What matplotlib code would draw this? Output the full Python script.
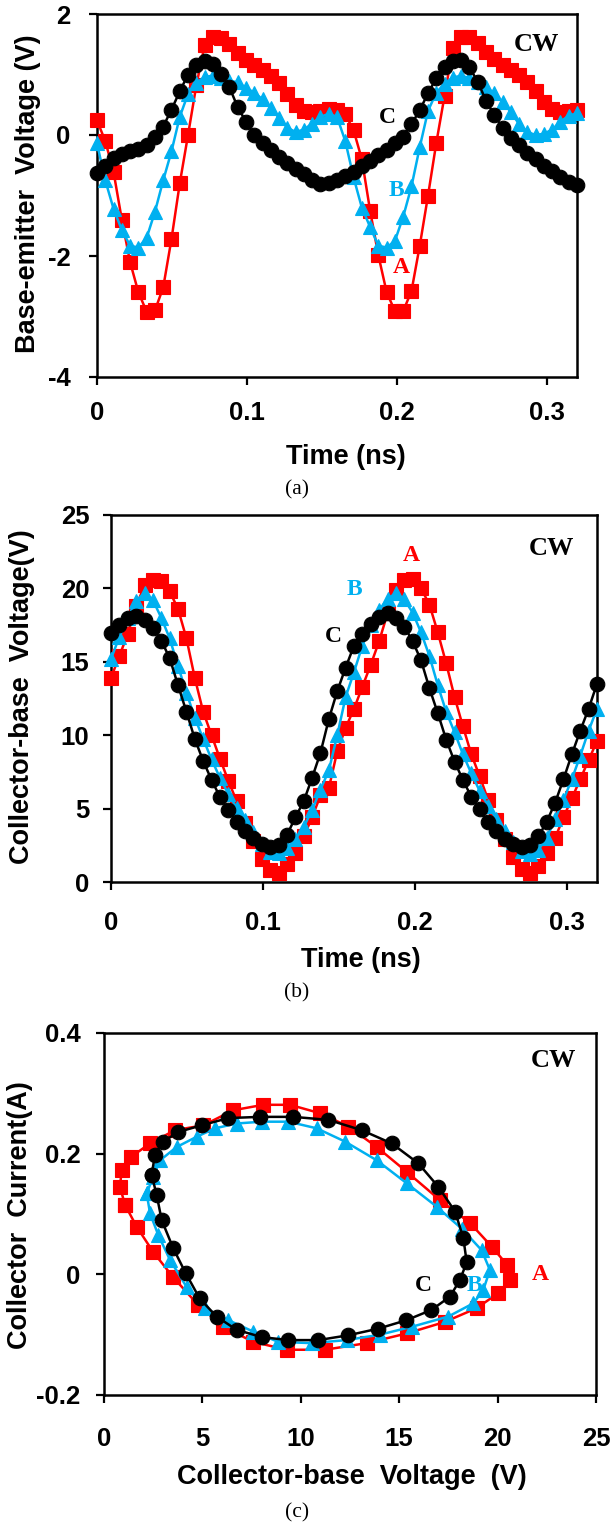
import numpy as np
import matplotlib
matplotlib.use('Agg')
import matplotlib.pyplot as plt

plt.rcParams['font.family'] = ['Liberation Sans', 'DejaVu Sans']
plt.rcParams['font.weight'] = 'bold'
plt.rcParams['axes.unicode_minus'] = False

# ---------------- data ----------------
# sampling instants (ns)
time_ns = np.linspace(0, 0.32, 59)

# (a) Base-emitter voltage (V)
vbe_A = [0.24, -0.10, -0.61, -1.40, -2.10, -2.60, -2.92, -2.90, -2.52, -1.72,
         -0.80, 0.00, 0.82, 1.48, 1.62, 1.60, 1.50, 1.35, 1.24, 1.15,
         1.07, 0.98, 0.86, 0.68, 0.50, 0.40, 0.38, 0.40, 0.43, 0.42,
         0.34, 0.08, -0.40, -1.25, -1.99, -2.60, -2.91, -2.91, -2.58, -1.83,
         -1.00, -0.13, 0.65, 1.44, 1.62, 1.62, 1.52, 1.37, 1.25, 1.16,
         1.08, 0.99, 0.88, 0.72, 0.55, 0.43, 0.38, 0.39, 0.41]
vbe_B = [-0.14, -0.75, -1.22, -1.57, -1.83, -1.86, -1.70, -1.27, -0.75, -0.27,
         0.30, 0.68, 0.86, 0.96, 0.98, 0.94, 0.90, 0.87, 0.78, 0.70,
         0.59, 0.45, 0.28, 0.12, 0.05, 0.09, 0.19, 0.30, 0.35, 0.30,
         -0.10, -0.70, -1.20, -1.52, -1.83, -1.86, -1.75, -1.35, -0.85, -0.20,
         0.40, 0.70, 0.85, 0.95, 0.98, 0.94, 0.88, 0.79, 0.69, 0.55,
         0.38, 0.18, 0.05, 0.00, 0.02, 0.09, 0.22, 0.32, 0.36]
vbe_C = [-0.62, -0.52, -0.38, -0.31, -0.26, -0.23, -0.16, -0.03, 0.14, 0.42,
         0.72, 1.00, 1.15, 1.23, 1.18, 1.01, 0.79, 0.46, 0.22, 0.00,
         -0.13, -0.25, -0.36, -0.46, -0.56, -0.65, -0.74, -0.81, -0.80, -0.75,
         -0.68, -0.61, -0.52, -0.43, -0.33, -0.24, -0.14, -0.03, 0.18, 0.41,
         0.69, 0.94, 1.13, 1.23, 1.24, 1.12, 0.88, 0.57, 0.33, 0.12,
         -0.05, -0.17, -0.30, -0.40, -0.51, -0.60, -0.69, -0.77, -0.82]

# (b) Collector-base voltage (V)
vcb_A = [13.9, 15.4, 16.9, 18.8, 20.2, 20.55, 20.5, 19.8, 18.6, 16.6,
         13.9, 11.6, 10.0, 8.4, 6.9, 5.5, 4.0, 2.8, 1.6, 0.85,
         0.6, 1.2, 2.0, 3.1, 4.4, 5.9, 6.4, 8.9, 10.5, 11.8,
         13.3, 14.8, 16.4, 18.3, 19.9, 20.55, 20.65, 20.0, 18.9, 17.0,
         14.9, 12.6, 10.6, 8.7, 7.2, 5.6, 4.2, 2.9, 1.7, 0.9,
         0.6, 1.1, 2.0, 3.0, 4.4, 5.7, 7.0, 8.3, 9.6]
vcb_B = [15.2, 16.7, 18.0, 19.15, 19.68, 19.2, 18.0, 16.6, 14.7, 12.9,
         11.2, 9.75, 8.35, 7.1, 6.0, 5.05, 4.2, 3.4, 2.6, 2.05,
         1.95, 2.3, 2.9, 3.75, 4.9, 6.3, 7.6, 10.0, 12.6, 14.3,
         16.1, 17.5, 18.5, 19.3, 19.66, 19.25, 18.35, 17.0, 15.4, 13.4,
         11.6, 10.2, 8.7, 7.4, 6.2, 5.2, 4.3, 3.5, 2.7, 2.1,
         1.9, 2.2, 3.0, 4.3, 5.6, 7.0, 8.6, 10.3, 11.8]
vcb_C = [16.95, 17.5, 17.95, 18.1, 17.87, 17.3, 16.45, 15.25, 13.4, 11.6,
         9.75, 8.25, 6.95, 5.8, 4.9, 4.1, 3.5, 3.0, 2.6, 2.4,
         2.5, 3.2, 4.4, 5.5, 7.1, 8.8, 11.1, 13.0, 14.6, 16.1,
         16.9, 17.55, 18.05, 18.3, 17.98, 17.4, 16.4, 15.1, 13.2, 11.5,
         9.7, 8.2, 6.95, 5.8, 4.95, 4.1, 3.45, 2.95, 2.6, 2.4,
         2.55, 3.1, 4.1, 5.4, 7.0, 8.7, 10.3, 11.8, 13.5]

# (c) Dynamic load lines: collector-base voltage (V) vs collector current (A)
loop_A_v = [1.07, 0.81, 0.90, 1.39, 2.34, 3.61, 5.05, 6.57, 8.10, 9.45, 10.98,
            12.42, 13.86, 15.38, 17.07, 18.60, 19.70, 20.50, 20.63, 20.04, 18.94,
            17.31, 15.38, 13.35, 11.23, 9.28, 7.59, 6.06, 4.79, 3.52, 2.50, 1.66, 1.07]
loop_A_i = [0.115, 0.145, 0.173, 0.195, 0.217, 0.239, 0.247, 0.272, 0.281, 0.281, 0.267,
            0.245, 0.211, 0.170, 0.123, 0.085, 0.046, 0.015, -0.009, -0.031, -0.056,
            -0.079, -0.098, -0.114, -0.125, -0.125, -0.112, -0.087, -0.051, -0.005, 0.037, 0.079, 0.115]
loop_B_v = [2.17, 2.50, 2.85, 3.69, 4.71, 5.64, 6.74, 8.01, 9.37, 10.81, 12.25,
            13.86, 15.38, 16.91, 18.20, 19.19, 19.61, 19.27, 18.77, 17.49, 15.63,
            14.02, 12.33, 10.55, 8.86, 7.59, 6.32, 5.13, 4.20, 3.35, 2.76, 2.34, 2.17]
loop_B_i = [0.134, 0.162, 0.189, 0.211, 0.228, 0.242, 0.250, 0.253, 0.253, 0.242, 0.220,
            0.189, 0.151, 0.112, 0.075, 0.040, 0.007, -0.026, -0.048, -0.070, -0.087,
            -0.100, -0.109, -0.114, -0.112, -0.095, -0.076, -0.056, -0.021, 0.024, 0.065, 0.101, 0.134]
loop_C_v = [2.42, 2.59, 3.01, 3.78, 4.96, 6.32, 7.93, 9.62, 11.40, 13.09, 14.62,
            15.97, 16.99, 17.84, 18.26, 18.43, 18.09, 17.58, 16.64, 15.37, 13.94,
            12.41, 10.89, 9.37, 8.01, 6.74, 5.72, 4.86, 4.15, 3.52, 2.93, 2.68, 2.42]
loop_C_i = [0.165, 0.198, 0.220, 0.236, 0.247, 0.259, 0.261, 0.261, 0.256, 0.239, 0.217,
            0.184, 0.145, 0.104, 0.060, 0.020, -0.009, -0.037, -0.059, -0.076, -0.090,
            -0.101, -0.109, -0.109, -0.104, -0.092, -0.070, -0.040, 0.002, 0.043, 0.090, 0.131, 0.165]

# ---------------- style ----------------
RED = '#FF0000'
BLUE = '#00B0F0'
BLACK = '#000000'

W, H = 613, 1526
fig = plt.figure(figsize=(W / 100, H / 100), dpi=100)


def ax_at(l, t, r, b):
    return fig.add_axes([l / W, 1 - b / H, (r - l) / W, (b - t) / H])


def style(ax, xpad, ypad):
    for s in ax.spines.values():
        s.set_linewidth(1.8)
    ax.tick_params(direction='out', length=6, width=1.6, labelsize=18.5,
                   top=False, right=False)
    ax.tick_params(axis='x', pad=xpad)
    ax.tick_params(axis='y', pad=ypad)


def series(ax, x, y, color, marker, ms, z):
    ax.plot(x, y, color=color, lw=1.8, marker=marker, ms=ms, mfc=color,
            mec=color, mew=0.8, zorder=z, clip_on=False)


def figtext(x, y, s, **kw):
    fig.text(x / W, 1 - y / H, s, ha='center', va='center', **kw)


serif_b = dict(family=['Liberation Serif', 'DejaVu Serif'], weight='bold')

# ---- (a) ----
ax1 = ax_at(97, 14, 577, 377)
series(ax1, time_ns, vbe_A, RED, 's', 10, 3)
series(ax1, time_ns, vbe_B, BLUE, '^', 10.5, 4)
series(ax1, time_ns, vbe_C, BLACK, 'o', 10.5, 5)
ax1.set_xlim(0, 0.32)
ax1.set_ylim(-4, 2)
ax1.set_xticks([0, 0.1, 0.2, 0.3], ['0', '0.1', '0.2', '0.3'])
ax1.set_yticks([-4, -2, 0, 2], ['-4', '-2', '0', '2'])
style(ax1, 11, 13)
ax1.text(0.2927, 1.5, 'CW', fontsize=19, color=BLACK, ha='center', va='center', **serif_b)
ax1.text(0.1937, 0.29, 'C', fontsize=17, color=BLACK, ha='center', va='center', **serif_b)
ax1.text(0.1998, -0.92, 'B', fontsize=17, color=BLUE, ha='center', va='center', **serif_b)
ax1.text(0.2027, -2.19, 'A', fontsize=17, color=RED, ha='center', va='center', **serif_b)
figtext(346, 457, 'Time (ns)', fontsize=19.5, weight='bold')
figtext(28, 194, 'Base-emitter  Voltage (V)', fontsize=19.5, weight='bold', rotation=90)
figtext(297, 490, '(a)', fontsize=15.5, family=['Liberation Serif'], weight='normal')

# ---- (b) ----
ax2 = ax_at(111, 515, 597, 882)
series(ax2, time_ns, vcb_A, RED, 's', 10, 3)
series(ax2, time_ns, vcb_B, BLUE, '^', 10.5, 4)
series(ax2, time_ns, vcb_C, BLACK, 'o', 10.5, 5)
ax2.set_xlim(0, 0.32)
ax2.set_ylim(0, 25)
ax2.set_xticks([0, 0.1, 0.2, 0.3], ['0', '0.1', '0.2', '0.3'])
ax2.set_yticks([0, 5, 10, 15, 20, 25])
style(ax2, 15, 9.5)
ax2.text(0.29, 22.73, 'CW', fontsize=19, color=BLACK, ha='center', va='center', **serif_b)
ax2.text(0.1978, 22.27, 'A', fontsize=17, color=RED, ha='center', va='center', **serif_b)
ax2.text(0.1605, 19.9, 'B', fontsize=17, color=BLUE, ha='center', va='center', **serif_b)
ax2.text(0.1463, 16.7, 'C', fontsize=17, color=BLACK, ha='center', va='center', **serif_b)
figtext(361, 960, 'Time (ns)', fontsize=19.5, weight='bold')
figtext(22, 697, 'Collector-base  Voltage(V)', fontsize=19.5, weight='bold', rotation=90)
figtext(297, 993, '(b)', fontsize=15.5, family=['Liberation Serif'], weight='normal')

# ---- (c) ----
ax3 = ax_at(104, 1033, 596, 1395)
series(ax3, loop_A_v, loop_A_i, RED, 's', 10, 3)
series(ax3, loop_B_v, loop_B_i, BLUE, '^', 10.5, 4)
series(ax3, loop_C_v, loop_C_i, BLACK, 'o', 10.5, 5)
ax3.set_xlim(0, 25)
ax3.set_ylim(-0.2, 0.4)
ax3.set_xticks([0, 5, 10, 15, 20, 25])
ax3.set_yticks([-0.2, 0, 0.2, 0.4], ['-0.2', '0', '0.2', '0.4'])
style(ax3, 17, 11)
ax3.text(22.84, 0.355, 'CW', fontsize=19, color=BLACK, ha='center', va='center', **serif_b)
ax3.text(22.15, 0.0, 'A', fontsize=17, color=RED, ha='center', va='center', **serif_b)
ax3.text(18.84, -0.018, 'B', fontsize=17, color=BLUE, ha='center', va='center', **serif_b)
ax3.text(16.23, -0.018, 'C', fontsize=17, color=BLACK, ha='center', va='center', **serif_b)
figtext(352, 1477, 'Collector-base  Voltage  (V)', fontsize=19.5, weight='bold')
figtext(20, 1215, 'Collector  Current(A)', fontsize=19.5, weight='bold', rotation=90)
figtext(297, 1513, '(c)', fontsize=15.5, family=['Liberation Serif'], weight='normal')

fig.savefig('out.png', dpi=100)
